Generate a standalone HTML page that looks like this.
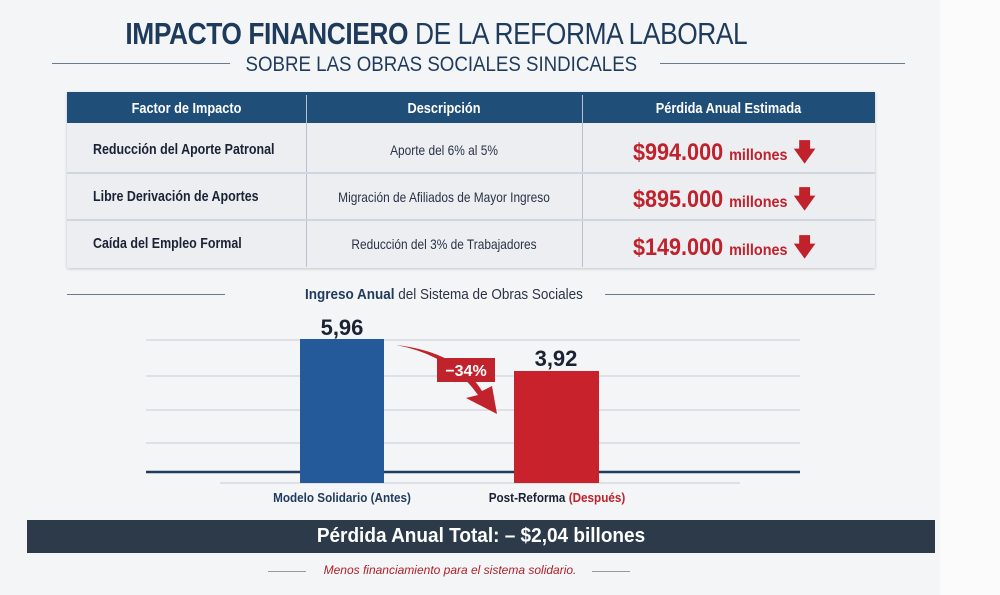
<!DOCTYPE html>
<html><head><meta charset="utf-8"><style>
*{margin:0;padding:0;box-sizing:border-box}
body{width:1000px;height:595px;background:#f4f5f7;position:relative;overflow:hidden;font-family:"Liberation Sans",sans-serif}
.a{position:absolute;white-space:nowrap}
.c{text-align:center;transform-origin:50% 50%}
.l{transform-origin:0 50%}
.line{position:absolute;height:1px;background:#6b7a8c}
</style></head><body>
<div class="a" style="left:940px;top:0;width:60px;height:595px;background:#fbfbfc"></div>
<div class="a c" style="left:75px;width:672px;top:16px;font-size:31px;font-weight:bold;color:#1f3b5c;letter-spacing:-0.5px;transform:scaleX(0.85)">IMPACTO FINANCIERO <span style="font-weight:normal">DE LA REFORMA LABORAL</span></div>
<div class="line" style="left:52px;width:178px;top:63px"></div>
<div class="line" style="left:660px;width:245px;top:63px"></div>
<div class="a c" style="left:223px;width:410px;top:53px;font-size:21px;color:#1f3b5c;transform:scaleX(0.89)">SOBRE LAS OBRAS SOCIALES SINDICALES</div>

<div class="a" style="left:67px;top:92px;width:808px;height:176px;background:#eceef2;box-shadow:0 1px 3px rgba(0,0,0,.2)"></div>
<div class="a" style="left:67px;top:92px;width:808px;height:31px;background:#1f4e79"></div>
<div class="a" style="left:306px;top:95px;width:1px;height:172px;background:#b8c2cf"></div>
<div class="a" style="left:582px;top:95px;width:1px;height:172px;background:#b8c2cf"></div>
<div class="a" style="left:67px;top:172px;width:808px;height:2px;background:#d0d6de"></div>
<div class="a" style="left:67px;top:219px;width:808px;height:2px;background:#d0d6de"></div>
<div class="a c" style="left:67px;width:239px;top:100px;font-size:15px;font-weight:bold;color:#fff;transform:scaleX(0.85)">Factor de Impacto</div>
<div class="a c" style="left:306px;width:276px;top:100px;font-size:15px;font-weight:bold;color:#fff;transform:scaleX(0.85)">Descripción</div>
<div class="a c" style="left:582px;width:293px;top:100px;font-size:15px;font-weight:bold;color:#fff;transform:scaleX(0.85)">Pérdida Anual Estimada</div>

<div class="a l" style="left:93px;top:141px;font-size:15px;font-weight:bold;color:#1a2233;transform:scaleX(0.83)">Reducción del Aporte Patronal</div>
<div class="a l" style="left:93px;top:188px;font-size:15px;font-weight:bold;color:#1a2233;transform:scaleX(0.83)">Libre Derivación de Aportes</div>
<div class="a l" style="left:93px;top:235px;font-size:15px;font-weight:bold;color:#1a2233;transform:scaleX(0.83)">Caída del Empleo Formal</div>
<div class="a c" style="left:306px;width:276px;top:142px;font-size:14px;color:#2a3344;transform:scaleX(0.85)">Aporte del 6% al 5%</div>
<div class="a c" style="left:306px;width:276px;top:189px;font-size:14px;color:#2a3344;transform:scaleX(0.85)">Migración de Afiliados de Mayor Ingreso</div>
<div class="a c" style="left:306px;width:276px;top:236px;font-size:14px;color:#2a3344;transform:scaleX(0.85)">Reducción del 3% de Trabajadores</div>
<div class="a l" style="left:633px;top:135px;font-size:24px;font-weight:bold;color:#c0212b;transform:scaleX(0.9)">$994.000 <span style="font-size:16px">millones</span> <span style="font-size:24px">🡇</span></div>
<div class="a l" style="left:633px;top:182px;font-size:24px;font-weight:bold;color:#c0212b;transform:scaleX(0.9)">$895.000 <span style="font-size:16px">millones</span> <span style="font-size:24px">🡇</span></div>
<div class="a l" style="left:633px;top:230px;font-size:24px;font-weight:bold;color:#c0212b;transform:scaleX(0.9)">$149.000 <span style="font-size:16px">millones</span> <span style="font-size:24px">🡇</span></div>

<div class="line" style="left:67px;width:158px;top:294px"></div>
<div class="line" style="left:605px;width:270px;top:294px"></div>
<div class="a l" style="left:305px;top:286px;font-size:15px;color:#2a3344;transform:scaleX(0.9)"><b style="color:#1f3b5c">Ingreso Anual</b> del Sistema de Obras Sociales</div>

<svg class="a" style="left:0;top:0" width="1000" height="595">
<g stroke="#d6dae0" stroke-width="1.5">
<line x1="146" y1="340" x2="800" y2="340"/><line x1="146" y1="376" x2="800" y2="376"/>
<line x1="146" y1="410" x2="800" y2="410"/><line x1="146" y1="443" x2="800" y2="443"/>
<line x1="220" y1="483" x2="740" y2="483"/></g>
<line x1="146" y1="472" x2="800" y2="472" stroke="#1f3b5c" stroke-width="2.5"/>
<rect x="300" y="339" width="84" height="144" fill="#245a9a"/>
<rect x="514" y="371" width="85" height="112" fill="#c8222d"/>
<path d="M396,345 Q450,355 478,395 L466,398 L497,414 L492,386 L482,391 Q458,352 396,345Z" fill="#c0232c"/>
<rect x="437" y="358" width="58" height="24" fill="#c0232c"/>
<text x="466" y="376" text-anchor="middle" font-family="Liberation Sans, sans-serif" font-size="16" font-weight="bold" fill="#fff">−34%</text>
<text x="342" y="335" text-anchor="middle" font-family="Liberation Sans, sans-serif" font-size="22" font-weight="bold" fill="#1a2233">5,96</text>
<text x="556" y="366" text-anchor="middle" font-family="Liberation Sans, sans-serif" font-size="22" font-weight="bold" fill="#1a2233">3,92</text>
</svg>
<div class="a c" style="left:242px;width:200px;top:490px;font-size:13px;font-weight:bold;color:#1f3b5c;transform:scaleX(0.9)">Modelo Solidario (Antes)</div>
<div class="a c" style="left:457px;width:200px;top:490px;font-size:13px;font-weight:bold;color:#1a2233;transform:scaleX(0.9)">Post-Reforma <span style="color:#c0212b">(Después)</span></div>

<div class="a" style="left:27px;top:520px;width:908px;height:33px;background:#2d3a4a"></div>
<div class="a c" style="left:27px;width:908px;top:525px;font-size:20px;font-weight:bold;color:#fff;transform:scaleX(0.95)">Pérdida Anual Total: – $2,04 billones</div>
<div class="line" style="left:268px;width:38px;top:571px;background:#999"></div>
<div class="line" style="left:592px;width:38px;top:571px;background:#999"></div>
<div class="a c" style="left:300px;width:300px;top:563px;font-size:12px;font-style:italic;color:#b0202a">Menos financiamiento para el sistema solidario.</div>
</body></html>
